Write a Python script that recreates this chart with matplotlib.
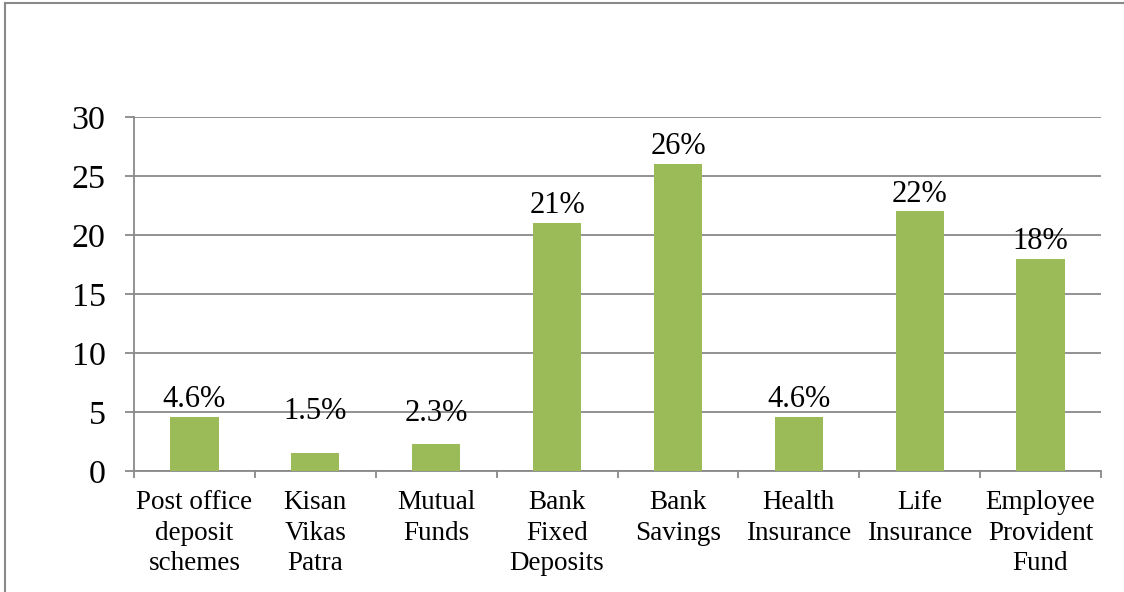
import matplotlib.pyplot as plt
from matplotlib.lines import Line2D
import numpy as np

categories = ['Post office\ndeposit\nschemes', 'Kisan\nVikas\nPatra', 'Mutual\nFunds',
              'Bank\nFixed\nDeposits', 'Bank\nSavings', 'Health\nInsurance',
              'Life\nInsurance', 'Employee\nProvident\nFund']
values = [4.6, 1.5, 2.3, 21, 26, 4.6, 22, 18]
value_labels = ['4.6%', '1.5%', '2.3%', '21%', '26%', '4.6%', '22%', '18%']
# labels of the two smallest bars were lifted to line up with the others
label_anchor = [4.6, 3.6, 3.4, 21, 26, 4.6, 22, 18]
yticks = [0, 5, 10, 15, 20, 25, 30]

plt.rcParams['font.family'] = ['Liberation Serif', 'DejaVu Serif']
grey = '#898989'

fig = plt.figure(figsize=(11.24, 5.92), dpi=100)
ax = fig.add_axes([134 / 1124, 1 - 471 / 592, (1101 - 134) / 1124, (471 - 117) / 592])

x = np.arange(len(categories))
bars = ax.bar(x, values, width=0.4, color='#9BBB59', zorder=3)

ax.set_xlim(-0.5, len(categories) - 0.5)
ax.set_ylim(0, 30)
ax.set_yticks(yticks)
ax.tick_params(axis='y', labelsize=24.5, length=6.5, width=1.3, color=grey, pad=14)
ax.yaxis.grid(True, color=grey, linewidth=1.3, zorder=0)

# category ticks sit on the boundaries between bars
ax.set_xticks(np.arange(len(categories) + 1) - 0.5)
ax.set_xticklabels([])
ax.set_xticks(x, minor=True)
ax.set_xticklabels(categories, minor=True, fontsize=19.5, linespacing=1.27)
ax.tick_params(axis='x', which='major', length=5, width=1.3, color=grey)
ax.tick_params(axis='x', which='minor', length=0, pad=14)

for s in ['top', 'right']:
    ax.spines[s].set_visible(False)
for s in ['left', 'bottom']:
    ax.spines[s].set_color(grey)
    ax.spines[s].set_linewidth(1.3)

for b, lab, ya in zip(bars, value_labels, label_anchor):
    ax.annotate(lab, (b.get_x() + b.get_width() / 2, ya),
                xytext=(0, 2), textcoords='offset points',
                ha='center', va='bottom', fontsize=22, zorder=4)

# outer frame (top and left edges)
fig.add_artist(Line2D([5 / 1124, 5 / 1124], [0, 1 - 3 / 592], color=grey, lw=1.5, transform=fig.transFigure))
fig.add_artist(Line2D([5 / 1124, 1], [1 - 3 / 592, 1 - 3 / 592], color=grey, lw=1.5, transform=fig.transFigure))

fig.savefig('out.png', dpi=100)
